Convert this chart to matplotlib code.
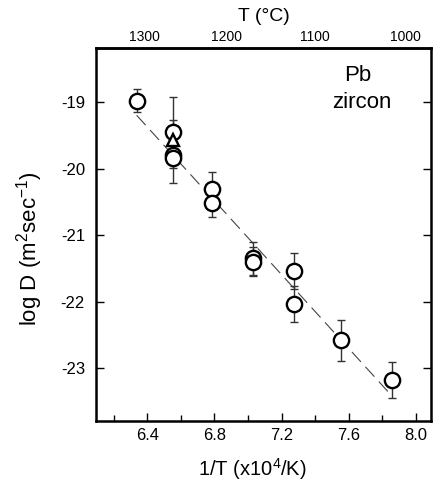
import matplotlib
matplotlib.use("Agg")
import matplotlib.pyplot as plt
from matplotlib.ticker import MultipleLocator

plt.rcParams['font.family'] = ['Liberation Sans', 'DejaVu Sans']
plt.rcParams['mathtext.fontset'] = 'custom'
plt.rcParams['mathtext.rm'] = 'Liberation Sans'
plt.rcParams['mathtext.it'] = 'Liberation Sans:italic'
plt.rcParams['mathtext.bf'] = 'Liberation Sans:bold'

# circle data: 1/T (x10^4/K), log D, error
circle_x = [6.337, 6.555, 6.555, 6.555, 6.783, 6.783, 7.027, 7.027, 7.275, 7.275, 7.557, 7.855]
circle_y = [-18.98, -19.45, -19.79, -19.84, -20.31, -20.52, -21.35, -21.40, -21.54, -22.04, -22.58, -23.17]
circle_err = [0.17, 0.18, 0.16, 0.15, 0.26, 0.21, 0.25, 0.22, 0.27, 0.27, 0.31, 0.27]

# triangle data
tri_x = [6.555]
tri_y = [-19.57]
tri_err = [0.65]

# fitted line
fit_x = [6.337, 7.845]
fit_y = [-19.2, -23.38]

# top axis (T in degrees C)
top_tick_pos = [6.386, 6.874, 7.398, 7.939]
top_tick_labels = ['1300', '1200', '1100', '1000']

x_ticks = [6.4, 6.8, 7.2, 7.6, 8.0]
y_ticks = [-19, -20, -21, -22, -23]

fig = plt.figure(figsize=(4.33, 4.83), dpi=100)
ax = fig.add_axes([96/433, 1-421/483, (431-96)/433, (421-48)/483])

ax.plot(fit_x, fit_y, color='#444444', lw=0.8, linestyle=(0, (12, 6)), zorder=1)

ax.errorbar(circle_x, circle_y, yerr=circle_err, fmt='none', ecolor='#333333',
            elinewidth=1.0, capsize=3, capthick=1.0, zorder=2)
ax.errorbar(tri_x, tri_y, yerr=tri_err, fmt='none', ecolor='#333333',
            elinewidth=1.0, capsize=3, capthick=1.0, zorder=2)
ax.plot(circle_x, circle_y, 'o', ms=11, mfc='white', mec='black', mew=1.7, zorder=3)
ax.plot(tri_x, tri_y, '^', ms=8.5, mfc='white', mec='black', mew=1.7, zorder=4)

ax.set_xlim(6.095, 8.09)
ax.set_ylim(-23.79, -18.19)
ax.set_xticks(x_ticks)
ax.set_xticklabels([f'{v:.1f}' for v in x_ticks])
ax.xaxis.set_minor_locator(MultipleLocator(0.2))
ax.set_yticks(y_ticks)
ax.set_yticklabels([str(v) for v in y_ticks])

ax.tick_params(axis='x', which='major', direction='in', length=6, width=1, labelsize=12, pad=5, top=False)
ax.tick_params(axis='x', which='minor', direction='in', length=4, width=1, top=False)
ax.tick_params(axis='y', which='major', direction='in', length=6, width=1, labelsize=12, pad=8,
               left=True, right=True)
for s in ax.spines.values():
    s.set_linewidth(1.8)

ax.set_xlabel('1/T (x10$^4$/K)', fontsize=14.5)
ax.xaxis.set_label_coords(0.466, -0.095)
ax.set_ylabel('log D (m$^2$sec$^{-1}$)', fontsize=16)
ax.yaxis.set_label_coords(-0.153, 0.4625)

top = ax.secondary_xaxis('top')
top.set_xticks(top_tick_pos)
top.set_xticklabels(top_tick_labels)
top.tick_params(axis='x', length=0, labelsize=10, pad=3)
top.spines['top'].set_linewidth(1.8)
top.set_xlabel('T (°C)', fontsize=14, labelpad=6)

ax.text(0.782, 0.925, 'Pb', transform=ax.transAxes, ha='center', va='center', fontsize=16)
ax.text(0.793, 0.853, 'zircon', transform=ax.transAxes, ha='center', va='center', fontsize=16)

fig.savefig('out.png', dpi=100)
